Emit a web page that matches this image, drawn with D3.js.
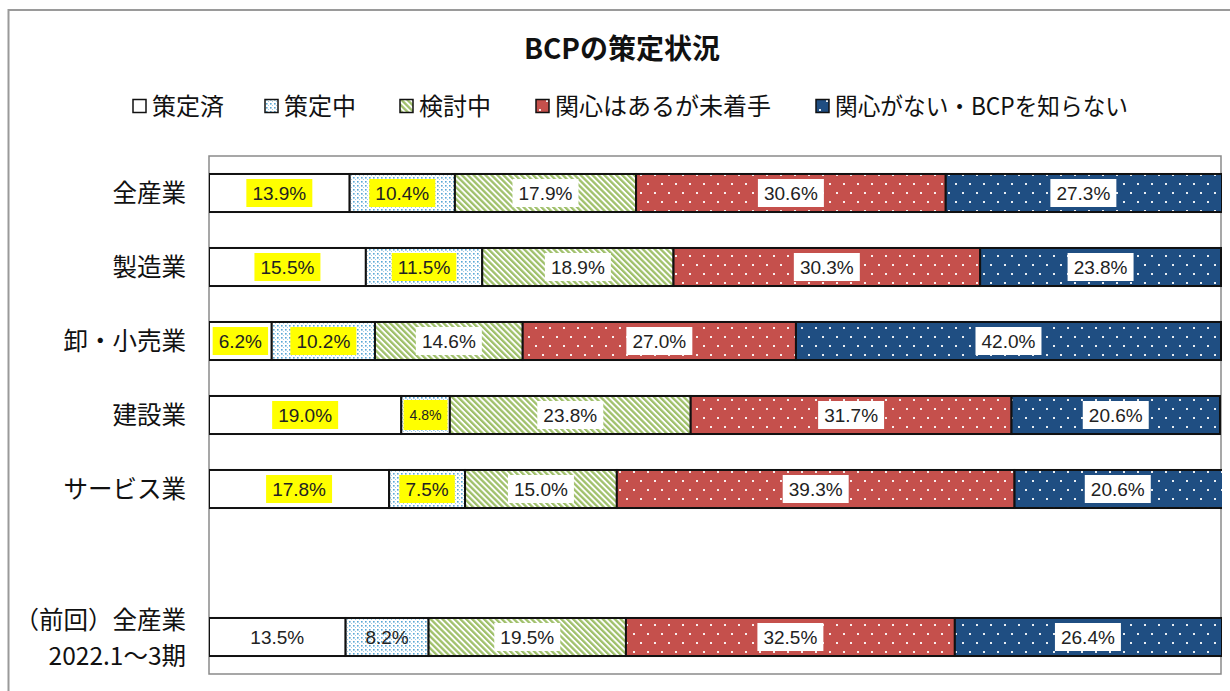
<!DOCTYPE html>
<html><head><meta charset="utf-8">
<script src="https://cdn.jsdelivr.net/npm/d3@7"></script>
<style>body{margin:0;background:#fff}svg{display:block}</style>
</head><body>
<svg id="c" width="1230" height="691"></svg>
<script>
const title = "BCPの策定状況";
const categories = ["全産業","製造業","卸・小売業","建設業","サービス業","（前回）全産業"];
const categorySub = {"（前回）全産業":"2022.1～3期"};
const seriesNames = ["策定済","策定中","検討中","関心はあるが未着手","関心がない・BCPを知らない"];
const s1 = [13.9,15.5,6.2,19.0,17.8,13.5];
const s2 = [10.4,11.5,10.2,4.8,7.5,8.2];
const s3 = [17.9,18.9,14.6,23.8,15.0,19.5];
const s4 = [30.6,30.3,27.0,31.7,39.3,32.5];
const s5 = [27.3,23.8,42.0,20.6,20.6,26.4];
const series = [s1,s2,s3,s4,s5];

const svg = d3.select("#c");
const JP = "'Noto Sans CJK JP','Noto Sans',sans-serif";
const NUM = "'Liberation Sans','Noto Sans',sans-serif";

const defs = svg.append("defs");
let p = defs.append("pattern").attr("id","p1").attr("patternUnits","userSpaceOnUse").attr("width",4).attr("height",4);
p.append("rect").attr("width",4).attr("height",4).attr("fill","#ffffff");
p.append("rect").attr("x",1).attr("y",1).attr("width",1.6).attr("height",1.6).attr("fill","#5aa8d4");
p.append("rect").attr("x",3).attr("y",3).attr("width",1).attr("height",1).attr("fill","#a0cde6");
p = defs.append("pattern").attr("id","p2").attr("patternUnits","userSpaceOnUse").attr("width",4.2).attr("height",10).attr("patternTransform","rotate(-45)");
p.append("rect").attr("width",4.2).attr("height",10).attr("fill","#ffffff");
p.append("rect").attr("width",2.3).attr("height",10).attr("fill","#9fc06a");
function dotPat(id,bg){
  const q = defs.append("pattern").attr("id",id).attr("patternUnits","userSpaceOnUse").attr("width",14).attr("height",18);
  q.append("rect").attr("width",14).attr("height",18).attr("fill",bg);
  q.append("rect").attr("x",3).attr("y",3).attr("width",2).attr("height",2).attr("fill","#ffffff").attr("opacity",0.9);
  q.append("rect").attr("x",10).attr("y",12).attr("width",2).attr("height",2).attr("fill","#ffffff").attr("opacity",0.9);
}
dotPat("p3","#c5504c");
dotPat("p4","#1f4e82");
const fills = ["#ffffff","url(#p1)","url(#p2)","url(#p3)","url(#p4)"];

svg.append("rect").attr("x",8.5).attr("y",10).attr("width",1240).attr("height",700)
  .attr("fill","none").attr("stroke","#9a9a9a").attr("stroke-width",2);

svg.append("text").attr("x",622).attr("y",59).attr("text-anchor","middle")
  .attr("font-family",JP).attr("font-weight","bold").attr("font-size",28).attr("fill","#111").text(title);

const legendX = [133,265,400,536,816];
const lg = svg.append("g");
seriesNames.forEach((n,i)=>{
  const g = lg.append("g").attr("transform",`translate(${legendX[i]},106)`);
  g.append("rect").attr("x",0).attr("y",-6.5).attr("width",13).attr("height",13)
    .attr("fill",fills[i]).attr("stroke","#111").attr("stroke-width",1.5);
  const t = g.append("text").attr("x",19).attr("y",0).attr("dy","0.36em")
    .attr("font-family",JP).attr("font-size",24).attr("fill","#111").text(n);
  if(i===4) t.attr("textLength",293).attr("lengthAdjust","spacingAndGlyphs");
});

const yDomain = categories.slice(0,5).concat(["__gap__"], categories.slice(5));
const x = d3.scaleLinear().domain([0,100]).range([209,1221]);
const y = d3.scaleBand().domain(yDomain).range([156,674]).paddingInner(0.486).paddingOuter(0.243);

svg.append("rect").attr("x",209).attr("y",156).attr("width",1012).attr("height",518)
  .attr("fill","#fff").attr("stroke","#8a8a8a").attr("stroke-width",1.5);

defs.append("clipPath").attr("id","clip").append("rect").attr("x",209).attr("y",150).attr("width",1013).attr("height",530);

const rows = categories.map((c,ci)=>{
  let acc=0;
  return series.map((s,si)=>{ const d={cat:c,ci,si,v:s[ci],x0:acc,x1:acc+s[ci]}; acc+=s[ci]; return d;});
});
const gBars = svg.append("g").attr("clip-path","url(#clip)");
rows.flat().forEach(d=>{
  gBars.append("rect").attr("x",x(d.x0)).attr("y",y(d.cat)).attr("width",x(d.x1)-x(d.x0)).attr("height",y.bandwidth())
    .attr("fill",fills[d.si]).attr("stroke","#111").attr("stroke-width",2);
});

const gL = svg.append("g");
rows.flat().forEach(d=>{
  const cx = (x(d.x0)+Math.min(x(d.x1),1221))/2;
  const cy = y(d.cat)+y.bandwidth()/2;
  const prev = d.ci===5;
  const small = d.v<5;
  const fs = small?14:19;
  let bg = null;
  if(!prev){ bg = d.si<2 ? "#ffff00" : "#ffffff"; }
  else { bg = d.si<2 ? null : "#ffffff"; }
  const grp = gL.append("g");
  const r = grp.append("rect");
  const t = grp.append("text").attr("x",cx).attr("y",cy).attr("dy","0.36em").attr("text-anchor","middle")
    .attr("font-family",NUM).attr("font-size",fs).attr("fill","#222").text(d.v.toFixed(1)+"%");
  if(bg){
    const bb = t.node().getBBox();
    let w = bb.width+12, h = small?30:28;
    const segW = x(d.x1)-x(d.x0);
    if(small) w = Math.min(w, segW-2);
    r.attr("x",cx-w/2).attr("y",cy-h/2).attr("width",w).attr("height",h).attr("fill",bg);
  } else r.remove();
});

categories.forEach(c=>{
  const cy = y(c)+y.bandwidth()/2;
  const lines = categorySub[c] ? [[c,cy-17],[categorySub[c],cy+19]] : [[c,cy]];
  lines.forEach(([txt,yy])=>{
    svg.append("text").attr("x",186).attr("y",yy).attr("dy","0.36em").attr("text-anchor","end")
      .attr("font-family",JP).attr("font-size",24.5).attr("fill","#111").text(txt);
  });
});
</script>
</body></html>
